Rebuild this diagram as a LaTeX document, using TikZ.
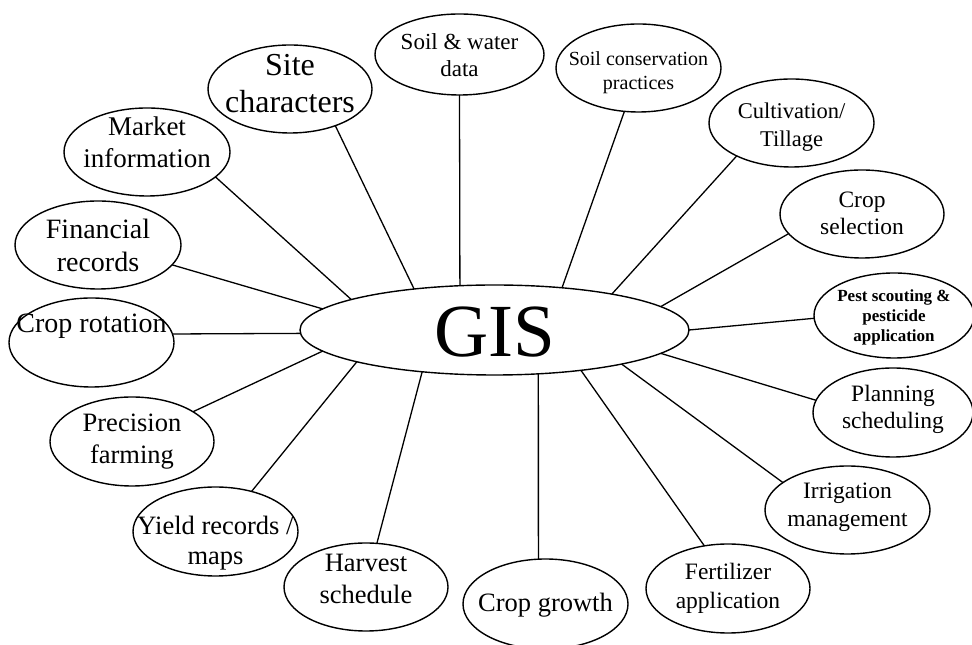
\documentclass[tikz,border=0pt]{standalone}
\usepackage{fontspec}
\setmainfont{Liberation Serif}
\usetikzlibrary{shapes.geometric}
\newcommand\fs[2]{\fontsize{#1}{#2}\selectfont}
\newcommand\tx[2]{\makebox[0pt]{\smash{\raisebox{#1}{\begin{tabular}[b]{@{}c@{}}#2\end{tabular}}}}}
\tikzset{
  bub/.style={ellipse, draw, line width=1.4pt, inner sep=0pt, outer sep=0pt},
  con/.style={line width=1.3pt},
}
\begin{document}
\begin{tikzpicture}[x=1pt,y=1pt]
\useasboundingbox (0,0) rectangle (972,645);
\node[bub, minimum width=389pt, minimum height=90pt, font=\fs{75}{80}] (gis) at (494.5,315) {\tx{-27pt}{GIS}};
\node[bub, minimum width=164pt, minimum height=88pt, font=\fs{32}{37}] (site) at (290,556) {\tx{-23.7pt}{Site\\characters}};
\node[bub, minimum width=166pt, minimum height=88pt, font=\fs{27}{32}] (market) at (147,493) {\tx{-15.7pt}{Market\\information}};
\node[bub, minimum width=166pt, minimum height=88pt, font=\fs{28}{33}] (fin) at (98,400) {\tx{-26.7pt}{Financial\\records}};
\node[bub, minimum width=169pt, minimum height=81pt, font=\fs{23}{27}] (soilw) at (459.5,590.5) {\tx{-22.2pt}{Soil \& water\\data}};
\node[bub, minimum width=165pt, minimum height=88pt, font=\fs{20}{24}] (soilc) at (638.5,577) {\tx{-21.3pt}{Soil conservation\\practices}};
\node[bub, minimum width=165pt, minimum height=88pt, font=\fs{22.5}{28}] (cult) at (791.5,522) {\tx{-23.7pt}{Cultivation/\\Tillage}};
\node[bub, minimum width=164pt, minimum height=88pt, font=\fs{23.5}{27}] (cropsel) at (862,431) {\tx{-21pt}{Crop\\selection}};
\node[bub, minimum width=160pt, minimum height=85pt, font=\bfseries\fs{17}{20}] (pest) at (894,329.5) {\tx{-26.2pt}{Pest scouting \&\\pesticide\\application}};
\node[bub, minimum width=160pt, minimum height=89pt, font=\fs{23.5}{27}] (plan) at (893,232.5) {\tx{-15.8pt}{Planning\\scheduling}};
\node[bub, minimum width=165pt, minimum height=88pt, font=\fs{23.5}{28}] (irr) at (847.5,135) {\tx{-16.7pt}{Irrigation\\management}};
\node[bub, minimum width=164pt, minimum height=89pt, font=\fs{23.5}{29}] (fert) at (728,56.5) {\tx{-19.8pt}{Fertilizer\\application}};
\node[bub, minimum width=165pt, minimum height=90pt, font=\fs{26.5}{32}] (growth) at (545.5,41) {\tx{-8pt}{Crop growth}};
\node[bub, minimum width=164pt, minimum height=88pt, font=\fs{26.5}{32}] (harv) at (366,58) {\tx{-16.3pt}{Harvest\\schedule}};
\node[bub, minimum width=165pt, minimum height=89pt, font=\fs{26.5}{30}] (yield) at (215.5,113.5) {\tx{-33.5pt}{Yield records /\\maps}};
\node[bub, minimum width=164pt, minimum height=89pt, font=\fs{26.5}{32}] (prec) at (132,203.5) {\tx{-21.8pt}{Precision\\farming}};
\node[bub, minimum width=165pt, minimum height=89pt, font=\fs{28}{32}] (rot) at (91.5,302.5) {\tx{9.5pt}{Crop rotation}};
\draw[con] (site.-39) -- (gis.153.6);
\draw[con] (market.-20.6) -- (gis.168);
\draw[con] (fin.-15.8) -- (gis.173.5);
\draw[con] (soilw.south) -- (gis.128.7);
\draw[con] (soilc.-108.2) -- (gis.32.1);
\draw[con] (cult.211.3) -- (gis.17.3);
\draw[con] (cropsel.195.3) -- (gis.8.75);
\draw[con] (pest.182.6) -- (gis.0.6);
\draw[con] (plan.171.1) -- (gis.-8.6);
\draw[con] (irr.157.9) -- (gis.-15.2);
\draw[con] (fert.119.5) -- (gis.-25.4);
\draw[con] (growth.99.5) -- (gis.-45.2);
\draw[con] (harv.76.9) -- (gis.210.3);
\draw[con] (yield.48.7) -- (gis.193.5);
\draw[con] (prec.26.6) -- (gis.187.1);
\draw[con] (rot.6) -- (gis.181.2);
\end{tikzpicture}
\end{document}
